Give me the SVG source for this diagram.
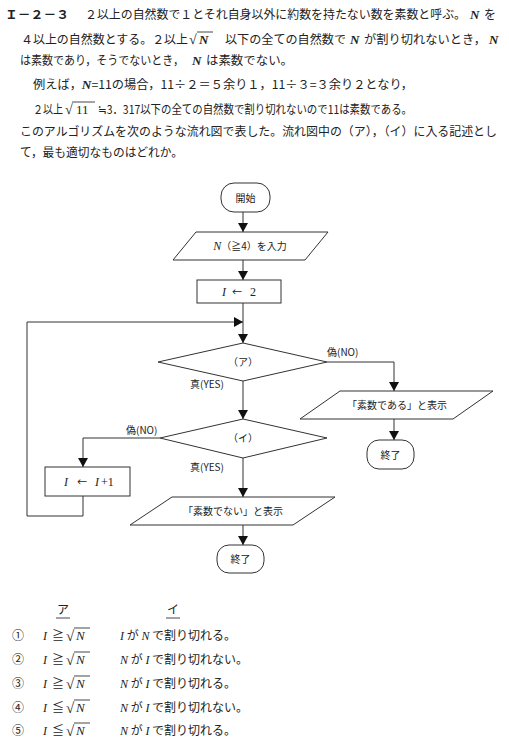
<svg xmlns="http://www.w3.org/2000/svg" width="509" height="748" viewBox="0 0 509 748">
<defs>
<marker id="ah" markerWidth="9" markerHeight="10" refX="9" refY="5" orient="auto" markerUnits="userSpaceOnUse">
<path d="M0,0 L9,5 L0,10 Z" fill="#111"/>
</marker>
<style>
.t{font-family:"Noto Sans CJK JP","Liberation Serif",serif;font-size:12px;fill:#222}
.f{font-family:"Noto Sans CJK JP","Liberation Serif",serif;font-size:10px;fill:#222}
.m{font-family:"Liberation Serif","Noto Sans CJK JP",serif;font-style:italic;fill:#222}
.mb{font-family:"Liberation Serif","Noto Sans CJK JP",serif;font-style:italic;font-weight:bold;fill:#222}
.r{font-family:"Liberation Serif","Noto Sans CJK JP",serif;fill:#222}
.s{fill:#fff;stroke:#333;stroke-width:1}
.c{fill:none;stroke:#333;stroke-width:1}
.bar{stroke:#333;stroke-width:0.9}
</style>
</defs>
<rect width="509" height="748" fill="#fff"/>

<g id="question">
<text class="t" x="5" y="19" font-weight="bold" textLength="64" lengthAdjust="spacingAndGlyphs">Ｉ－２－３</text>
<text class="t" x="85" y="19" textLength="381" lengthAdjust="spacingAndGlyphs">２以上の自然数で１とそれ自身以外に約数を持たない数を素数と呼ぶ。</text>
<text class="mb" x="470" y="19" font-size="13">N</text>
<text class="t" x="484" y="19">を</text>

<text class="t" x="21" y="44" textLength="167" lengthAdjust="spacingAndGlyphs">４以上の自然数とする。２以上</text>
<text class="r" x="189" y="44" font-size="14">√</text>
<line class="bar" x1="197" y1="32" x2="213" y2="32"/>
<text class="mb" x="199" y="44" font-size="13">N</text>
<text class="t" x="225" y="44" textLength="121" lengthAdjust="spacingAndGlyphs">以下の全ての自然数で</text>
<text class="mb" x="350" y="44" font-size="13">N</text>
<text class="t" x="364" y="44" textLength="122" lengthAdjust="spacingAndGlyphs">が割り切れないとき，</text>
<text class="mb" x="489" y="44" font-size="13">N</text>

<text class="t" x="20" y="65" textLength="164" lengthAdjust="spacingAndGlyphs">は素数であり，そうでないとき，</text>
<text class="mb" x="192" y="65" font-size="13">N</text>
<text class="t" x="206" y="65" textLength="87" lengthAdjust="spacingAndGlyphs">は素数でない。</text>

<text class="t" x="33" y="89" textLength="380" lengthAdjust="spacingAndGlyphs">例えば，<tspan class="mb" font-size="13">N</tspan>=11の場合，11÷２＝５余り１，11÷３=３余り２となり，</text>

<text class="t" x="33" y="114" textLength="30" lengthAdjust="spacingAndGlyphs">２以上</text>
<text class="r" x="65" y="114" font-size="14">√</text>
<line class="bar" x1="72" y1="102" x2="95" y2="102"/>
<text class="r" x="76" y="114" font-size="13">11</text>
<text class="t" x="98" y="114" textLength="314" lengthAdjust="spacingAndGlyphs">≒3．317以下の全ての自然数で割り切れないので11は素数である。</text>

<text class="t" x="20" y="136" textLength="477" lengthAdjust="spacingAndGlyphs">このアルゴリズムを次のような流れ図で表した。流れ図中の（ア），（イ）に入る記述とし</text>
<text class="t" x="20" y="157" textLength="163" lengthAdjust="spacingAndGlyphs">て，最も適切なものはどれか。</text>
</g>

<g id="connectors">
<line class="c" x1="243" y1="212" x2="243" y2="232" marker-end="url(#ah)"/>
<line class="c" x1="243" y1="260" x2="243" y2="280" marker-end="url(#ah)"/>
<line class="c" x1="243" y1="303" x2="243" y2="343" marker-end="url(#ah)"/>
<polyline class="c" points="83,496 83,516 27,516 27,322 243,322" marker-end="url(#ah)"/>
<polyline class="c" points="327,362 394,362 394,391" marker-end="url(#ah)"/>
<line class="c" x1="243" y1="381" x2="243" y2="419" marker-end="url(#ah)"/>
<polyline class="c" points="160,438 83,438 83,467" marker-end="url(#ah)"/>
<line class="c" x1="243" y1="458" x2="243" y2="497" marker-end="url(#ah)"/>
<line class="c" x1="394" y1="419" x2="394" y2="440" marker-end="url(#ah)"/>
<line class="c" x1="243" y1="525" x2="243" y2="545" marker-end="url(#ah)"/>
<text class="f" x="327" y="356">偽(NO)</text>
<text class="f" x="190" y="388">真(YES)</text>
<text class="f" x="126" y="434">偽(NO)</text>
<text class="f" x="190" y="471">真(YES)</text>
</g>

<g id="start">
<rect class="s" x="221" y="183" width="49" height="29" rx="13"/>
<text class="f" x="245.5" y="201.5" text-anchor="middle">開始</text>
</g>
<g id="input">
<polygon class="s" points="196,232 328,232 305,260 173,260"/>
<text class="f" x="250" y="250" text-anchor="middle"><tspan class="m" font-size="12">N</tspan>（≧4）を入力</text>
</g>
<g id="init">
<rect class="s" x="197" y="280" width="84" height="23"/>
<text class="m" x="222" y="295.5" font-size="12">I</text>
<text class="f" x="232" y="295.5" font-size="11">←</text>
<text class="r" x="250" y="295.5" font-size="12">2</text>
</g>
<g id="decisionA">
<polygon class="s" points="158,362 243,343 327,362 243,381"/>
<text class="f" x="243" y="366" text-anchor="middle">（ア）</text>
</g>
<g id="outPrime">
<polygon class="s" points="340,391 493,391 453,419 300,419"/>
<text class="f" x="397" y="409" text-anchor="middle">「素数である」と表示</text>
</g>
<g id="end1">
<rect class="s" x="367" y="440" width="47" height="29" rx="12"/>
<text class="f" x="390.5" y="458.5" text-anchor="middle">終了</text>
</g>
<g id="decisionB">
<polygon class="s" points="160,438 243,419 327,438 243,458"/>
<text class="f" x="243" y="442" text-anchor="middle">（イ）</text>
</g>
<g id="increment">
<rect class="s" x="45" y="467" width="85" height="29"/>
<text class="m" x="64" y="485.5" font-size="12">I</text>
<text class="f" x="77" y="485.5" font-size="11">←</text>
<text class="m" x="95" y="485.5" font-size="12">I</text>
<text class="r" x="101" y="485.5" font-size="12">+1</text>
</g>
<g id="outNotPrime">
<polygon class="s" points="172,497 335,497 293,525 130,525"/>
<text class="f" x="233" y="515" text-anchor="middle">「素数でない」と表示</text>
</g>
<g id="end2">
<rect class="s" x="217" y="545" width="47" height="28" rx="12"/>
<text class="f" x="240.5" y="563" text-anchor="middle">終了</text>
</g>

<g id="choices">
<text class="t" x="63" y="614" text-anchor="middle" font-size="11">ア</text>
<line class="bar" x1="56" y1="618" x2="70" y2="618"/>
<text class="t" x="173" y="614" text-anchor="middle" font-size="11">イ</text>
<line class="bar" x1="166" y1="618" x2="180" y2="618"/>

<text class="t" x="12" y="640">①</text>
<text class="m" x="43" y="640" font-size="12">I</text><text class="r" x="52" y="640" font-size="12">≧</text>
<text class="r" x="66" y="641" font-size="15">√</text><line class="bar" x1="74" y1="628" x2="90" y2="628"/><text class="m" x="76" y="640" font-size="13">N</text>
<text class="t" x="120" y="640" font-size="11"><tspan class="m" font-size="12">I</tspan> が <tspan class="m" font-size="12">N</tspan> で割り切れる。</text>

<text class="t" x="12" y="664">②</text>
<text class="m" x="43" y="664" font-size="12">I</text><text class="r" x="52" y="664" font-size="12">≧</text>
<text class="r" x="66" y="665" font-size="15">√</text><line class="bar" x1="74" y1="652" x2="90" y2="652"/><text class="m" x="76" y="664" font-size="13">N</text>
<text class="t" x="120" y="664" font-size="11"><tspan class="m" font-size="12">N</tspan> が <tspan class="m" font-size="12">I</tspan> で割り切れない。</text>

<text class="t" x="12" y="688">③</text>
<text class="m" x="43" y="688" font-size="12">I</text><text class="r" x="52" y="688" font-size="12">≧</text>
<text class="r" x="66" y="689" font-size="15">√</text><line class="bar" x1="74" y1="676" x2="90" y2="676"/><text class="m" x="76" y="688" font-size="13">N</text>
<text class="t" x="120" y="688" font-size="11"><tspan class="m" font-size="12">N</tspan> が <tspan class="m" font-size="12">I</tspan> で割り切れる。</text>

<text class="t" x="12" y="712">④</text>
<text class="m" x="43" y="712" font-size="12">I</text><text class="r" x="52" y="712" font-size="12">≦</text>
<text class="r" x="66" y="713" font-size="15">√</text><line class="bar" x1="74" y1="700" x2="90" y2="700"/><text class="m" x="76" y="712" font-size="13">N</text>
<text class="t" x="120" y="712" font-size="11"><tspan class="m" font-size="12">N</tspan> が <tspan class="m" font-size="12">I</tspan> で割り切れない。</text>

<text class="t" x="12" y="735">⑤</text>
<text class="m" x="43" y="735" font-size="12">I</text><text class="r" x="52" y="735" font-size="12">≦</text>
<text class="r" x="66" y="736" font-size="15">√</text><line class="bar" x1="74" y1="723" x2="90" y2="723"/><text class="m" x="76" y="735" font-size="13">N</text>
<text class="t" x="120" y="735" font-size="11"><tspan class="m" font-size="12">N</tspan> が <tspan class="m" font-size="12">I</tspan> で割り切れる。</text>
</g>
</svg>
